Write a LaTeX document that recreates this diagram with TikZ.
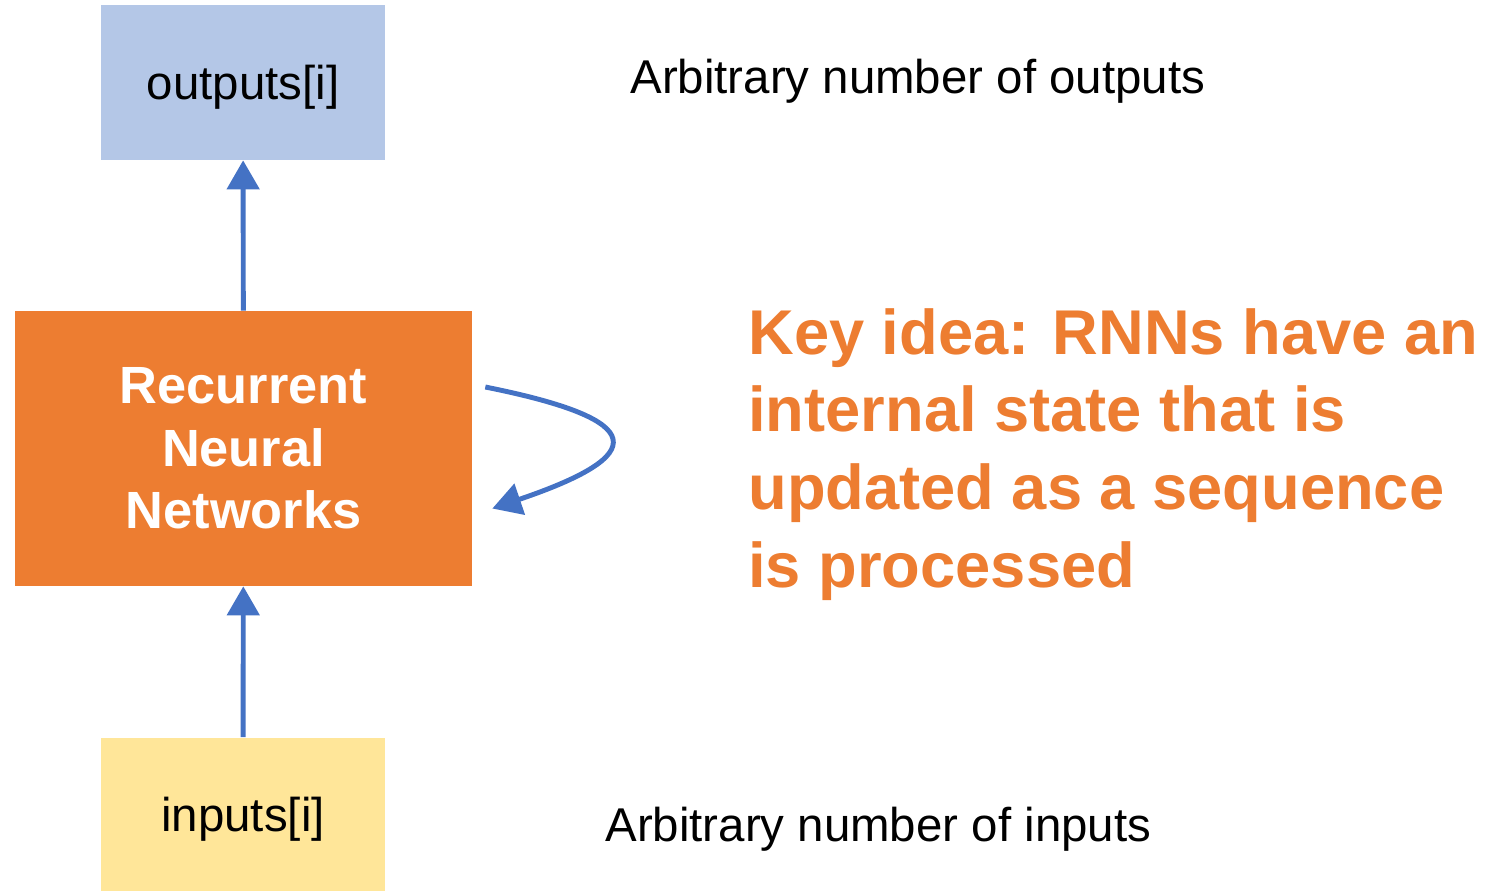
\documentclass[tikz,border=0pt]{standalone}
\usepackage{fontspec}
\setmainfont{Liberation Sans}
\usetikzlibrary{calc,arrows.meta}

\definecolor{rnnorange}{HTML}{ED7D31}
\definecolor{flowblue}{HTML}{4472C4}
\definecolor{outblue}{HTML}{B4C7E7}
\definecolor{inyellow}{HTML}{FFE699}

\tikzset{
  box/.style={minimum width=5.68cm, minimum height=3.1cm, inner sep=0pt, text depth=0pt,
    font=\fontsize{27}{32}\selectfont},
  flow/.style={draw=flowblue, line width=2.8pt, -{Triangle[length=0.58cm,width=0.64cm]}},
  note/.style={anchor=base west, inner sep=0pt, font=\fontsize{27}{32}\selectfont}
}

\begin{document}
\begin{tikzpicture}[x=0.02cm, y=-0.02cm]

% Frame
\useasboundingbox (0,0) rectangle (1496,890);

% Boxes
\node[box, fill=outblue] (outputs) at (243,82.5) {outputs[i]};
\node[fill=rnnorange, minimum width=9.14cm, minimum height=5.5cm, inner sep=0pt,
  text=white, align=center, font=\bfseries\fontsize{29.8}{35.7}\selectfont] (rnn) at (243.5,448.5)
  {Recurrent\\Neural\\Networks};
\node[box, fill=inyellow, minimum height=3.06cm] (inputs) at (243,814) {inputs[i]};

% Arrows
\draw[flow] (inputs) -- (rnn);
\draw[flow] (rnn) -- (outputs);

% Self loop
\coordinate (loopstart) at ($(rnn.east)+(13,-61.5)$);
\coordinate (loopend) at ($(rnn.east)+(20,60)$);
\draw[flow] (loopstart) .. controls (650,420) and (650,455) .. (loopend);

% Notes
\node[note] (outnote) at (630,93) {Arbitrary number of outputs};
\node[note] (innote) at (605,841) {Arbitrary number of inputs};
\node[note, align=left, text=rnnorange, font=\bfseries\fontsize{36}{44.2}\selectfont] (keyidea) at (748,587)
  {Key idea: RNNs have an\\internal state that is\\updated as a sequence\\is processed};

\end{tikzpicture}
\end{document}
